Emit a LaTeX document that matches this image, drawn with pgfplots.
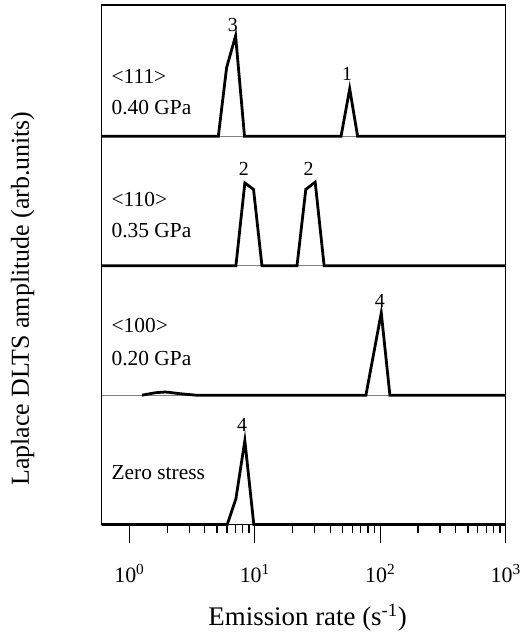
\documentclass[border=0pt]{standalone}
\usepackage{pgfplots}
\pgfplotsset{compat=1.18}
\usepackage{fontspec}
\setmainfont{Liberation Serif}
\begin{document}
\begin{tikzpicture}
\begin{axis}[
  scale only axis,
  width=406pt, height=522pt,
  xmode=log,
  xmin=0.6, xmax=1000,
  ymin=0, ymax=4.015,
  ytick=\empty,
  xtick={1,10,100,1000},
  xticklabels={{10\textsuperscript{0}},{10\textsuperscript{1}},{10\textsuperscript{2}},{10\textsuperscript{3}}},
  xtick pos=bottom,
  tick align=outside,
  major tick length=18pt,
  minor tick length=8pt,
  every tick/.style={line width=1.2pt, black},
  axis line style={line width=1.1pt},
  xticklabel style={anchor=center, yshift=-31pt, font=\fontsize{22}{24}\selectfont},
  xlabel={Emission rate (s\textsuperscript{-1})},
  xlabel style={at={(axis description cs:0.51,-0.18)}, anchor=center, font=\fontsize{27}{30}\selectfont},
  ylabel={Laplace DLTS amplitude (arb.units)},
  ylabel style={at={(axis description cs:-0.195,0.435)}, anchor=center, font=\fontsize{26}{28}\selectfont},
  clip=false,
]
% thin zero lines
\addplot[gray, line width=0.8pt] coordinates {(0.6,3) (1000,3)};
\addplot[gray, line width=0.8pt] coordinates {(0.6,2) (1000,2)};
\addplot[gray, line width=0.8pt] coordinates {(0.6,1) (1000,1)};
% <111> 0.40 GPa
\addplot[black, line width=2.8pt] coordinates {
 (0.6,3) (5.12,3) (5.96,3.531) (7.03,3.777) (8.28,3) (48.7,3) (57.1,3.367) (66.0,3) (1000,3)};
% <110> 0.35 GPa
\addplot[black, line width=2.8pt] coordinates {
 (0.6,2) (7.07,2) (8.33,2.64) (9.77,2.59) (11.4,2) (21.7,2) (25.5,2.59) (30.3,2.646) (35.7,2) (1000,2)};
% <100> 0.20 GPa
\addplot[black, line width=2.8pt, smooth, tension=0.3] coordinates {
 (1.26,1.0) (1.6,1.018) (1.95,1.024) (2.5,1.012) (3.38,1.0)};
\addplot[black, line width=2.8pt] coordinates {
 (3.38,1.0) (76.9,1) (101.9,1.636) (119.4,1) (1000,1)};
% Zero stress
\addplot[black, line width=2.8pt] coordinates {
 (0.6,0) (6.03,0) (7.07,0.2) (8.33,0.649) (9.82,0) (1000,0)};
% panel texts
\begin{scope}[every node/.style={anchor=west, inner sep=0pt, font=\fontsize{21.5}{23}\selectfont}]
\node at (axis cs:0.72,3.46) {<111>};
\node at (axis cs:0.72,3.22) {0.40 GPa};
\node at (axis cs:0.72,2.51) {<110>};
\node at (axis cs:0.72,2.27) {0.35 GPa};
\node at (axis cs:0.72,1.54) {<100>};
\node at (axis cs:0.72,1.28) {0.20 GPa};
\node at (axis cs:0.72,0.40) {Zero stress};
\end{scope}
\begin{scope}[every node/.style={anchor=center, inner sep=0pt, font=\fontsize{20}{22}\selectfont}]
\node at (axis cs:6.69,3.86) {3};
\node at (axis cs:54.4,3.48) {1};
\node at (axis cs:8.18,2.75) {2};
\node at (axis cs:26.8,2.75) {2};
\node at (axis cs:99.5,1.73) {4};
\node at (axis cs:7.93,0.77) {4};
\end{scope}
\end{axis}
\path (current axis.south west) +(-102pt,-108pt) (current axis.north east) +(15pt,5pt);
\end{tikzpicture}
\end{document}
